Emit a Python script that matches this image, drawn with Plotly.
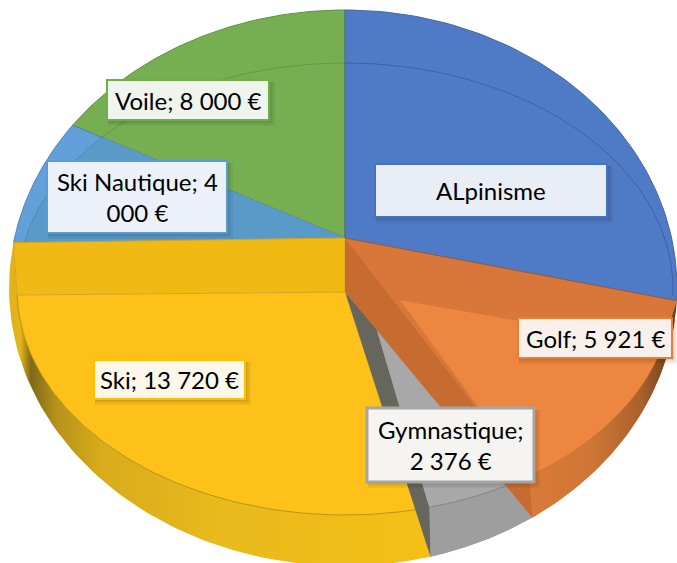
import numpy as np
import plotly.graph_objects as go

# ---- data (clockwise from 12 o'clock)
names = ["ALpinisme", "Golf", "Gymnastique", "Ski", "Ski Nautique", "Voile"]
values = [13500, 5921, 2376, 13720, 4000, 8000]   # Alpinisme is estimated: its label shows no value
show_value = [False, True, True, True, True, True]
top_colors = ["#4F7BC6", "#ED8640", "#A8A8A8", "#FDC119", "#639FD8", "#76AF52"]
line_breaks = {"Gymnastique": "Gymnastique;<br>{}", "Ski Nautique": "Ski Nautique; 4<br>000 €"}

# ---- view geometry of the tilted pie
CX, APEX_Y = 345.0, 238.0
OUT = dict(cy=288.0, rx=332.0, rx_left=336.0, ry=278.0)
INN = dict(cy=289.0, rx=328.0, rx_left=328.0, ry=226.0)
FACE_APEX_Y = 292.0
ORANGE_APEX = (400.0, 300.0)
GREY_APEX = (376.0, 327.0)
PERSP = (-7.5, 0.2, 2.8)   # harmonic terms of the perspective distortion, degrees


def screen_angle(theta):
    r = np.radians(theta)
    return theta + PERSP[0] * np.sin(r) + PERSP[1] * np.sin(2 * r) + PERSP[2] * np.sin(3 * r)


def ell(e, t):
    r = np.radians(t)
    s = np.sin(r)
    return CX + np.where(s >= 0, e["rx"], e["rx_left"]) * s, e["cy"] - e["ry"] * np.cos(r)


def inner_t(t):
    return t + 12 * np.sin(np.radians(t)) ** 7


def arc(e, t0, t1, warp=False, n=80):
    ts = np.linspace(t0, t1, n)
    if warp:
        ts = inner_t(ts)
    x, y = ell(e, ts)
    return list(x), list(y)


def ray_hit_t(t):
    """screen angle where the ray apex -> outer(t) crosses the inner ellipse"""
    ox, oy = ell(OUT, t)
    for s in np.linspace(1, 0, 800):
        x = CX + (ox - CX) * s
        y = APEX_Y + (oy - APEX_Y) * s
        if ((x - CX) / INN["rx"]) ** 2 + ((y - INN["cy"]) / INN["ry"]) ** 2 <= 1:
            return np.degrees(np.arctan2((x - CX) / INN["rx"], (INN["cy"] - y) / INN["ry"])) % 360
    return t


cum = np.cumsum(values) / np.sum(values) * 360.0
T = [float(screen_angle(c)) for c in cum]
t_blue, t_orange, t_grey, t_ski, t_nautique = T[:5]

fig = go.Figure()


def poly(xs, ys, color, line=None, width=1, gradient=None):
    kw = dict(fillgradient=gradient) if gradient else dict(fillcolor=color)
    fig.add_trace(go.Scatter(
        x=xs, y=ys, mode="lines", fill="toself", hoverinfo="skip", showlegend=False,
        line=dict(color=line or "rgba(0,0,0,0)", width=width if line else 0), **kw))


def stroke(xs, ys, color, width=1):
    fig.add_trace(go.Scatter(x=xs, y=ys, mode="lines", hoverinfo="skip", showlegend=False,
                             line=dict(color=color, width=width)))


def sector(t0, t1, color, line=None):
    x, y = arc(OUT, t0, t1)
    poly([CX] + x + [CX], [APEX_Y] + y + [APEX_Y], color, line)


def point(e, t, warp=False):
    x, y = ell(e, inner_t(t) if warp else t)
    return float(x), float(y)


# back slices
sector(0, t_blue, top_colors[0], "#44689F")
sector(t_nautique, 360, top_colors[5], "#5F8F45")
sector(t_ski, t_nautique, top_colors[4], "#4F85B8")
h0, h1 = ray_hit_t(t_ski), ray_hit_t(t_nautique)
x, y = arc(INN, h0, h1)
poly([CX] + x + [CX], [APEX_Y] + y + [APEX_Y], "#5A9AC9")

# faint rim line on the back half
x, y = arc(INN, h0, h1)
stroke(x, y, "rgba(60,80,90,0.25)")
x, y = arc(INN, h1, 360)
stroke(x, y, "rgba(50,80,40,0.25)")
x, y = arc(INN, 0, t_blue * 0.99)
stroke(x, y, "rgba(30,50,100,0.35)")

# Ski slice
ox, oy = arc(OUT, t_grey, t_ski)
ix, iy = arc(INN, t_grey, t_ski, warp=True)
poly(ox + ix[::-1], oy + iy[::-1], "#E0B01A", gradient=dict(
    type="horizontal", start=10, stop=430,
    colorscale=[[0, "#E3B41A"], [0.025, "#E3B41A"], [0.05, "#7E6A18"], [0.11, "#B5931A"],
                [0.22, "#D8AC1B"], [0.5, "#E8BA1D"], [1, "#F4BF16"]]))
poly([CX] + ix + [CX], [FACE_APEX_Y] + iy + [FACE_APEX_Y], top_colors[3])
stroke(ix, iy, "#B8930F")
yi = point(INN, t_ski, True)
yo = point(OUT, t_ski)
poly([CX, yo[0], yi[0], CX, CX], [APEX_Y, yo[1], yi[1], FACE_APEX_Y, APEX_Y], "#F1B913", "#D6A520")

# Gymnastique slice
go_o = point(OUT, t_orange)
gi = point(INN, t_grey, True)
go_g = point(OUT, t_grey)
ox, oy = arc(OUT, t_orange, t_grey)
poly([GREY_APEX[0]] + ox + [gi[0], GREY_APEX[0]], [GREY_APEX[1]] + oy + [gi[1], GREY_APEX[1]],
     top_colors[2])
ox2, oy2 = arc(OUT, t_orange, t_grey)
ix2, iy2 = arc(INN, t_orange, t_grey, warp=True)
poly(ox2 + ix2[::-1], oy2 + iy2[::-1], "#9E9E9E")
stroke(ix2, iy2, "#858585")
poly([CX, GREY_APEX[0], gi[0], go_g[0], CX], [FACE_APEX_Y, GREY_APEX[1], gi[1], go_g[1], FACE_APEX_Y],
     "#66665C")

# Golf slice
sector(t_blue, t_orange, "#D9773A")
ox, oy = arc(OUT, t_blue, t_orange)
ix, iy = arc(INN, t_blue, t_orange, warp=True)
poly(ix + ox[::-1], iy + oy[::-1], "#D07A38", gradient=dict(
    type="horizontal", start=530, stop=670,
    colorscale=[[0, "#D97A38"], [0.45, "#CE7636"], [0.8, "#A9602C"], [1, "#6E4220"]]))
stroke(ix, iy, "#C86C2C")
poly([ORANGE_APEX[0]] + ix + [ORANGE_APEX[0]], [ORANGE_APEX[1]] + iy + [ORANGE_APEX[1]], top_colors[1])
bi = point(INN, t_blue, True)
bo = point(OUT, t_blue)
poly([CX, bo[0], bi[0], ORANGE_APEX[0], CX], [APEX_Y, bo[1], bi[1], ORANGE_APEX[1], APEX_Y], "#D9773A")
oi = point(INN, t_orange, True)
poly([CX, oi[0], go_o[0], CX, CX], [APEX_Y, oi[1], go_o[1], FACE_APEX_Y, APEX_Y], "#C66C30")
stroke([CX, bo[0]], [APEX_Y, bo[1]], "#9A5A3A")
stroke([CX, CX], [float(ell(OUT, 0)[1]), APEX_Y], "#44689F")

# ---- data labels
def label(name, v, show):
    if not show:
        return name
    val = f"{v:,}".replace(",", " ") + " €"
    if name == "Ski Nautique":
        return line_breaks[name]
    if name in line_breaks:
        return line_breaks[name].format(val)
    return f"{name}; {val}"


boxes = [
    (375, 607, 164, 217, "#4472C4", "#E9EDF6", 2),
    (518, 672, 318, 358, "#ED7D31", "#F8F0EB", 2),
    (367, 534, 408, 482, "#A5A5A5", "#F5F4F1", 3),
    (94, 245, 360, 399, "#FFC000", "#FDF7E9", 2),
    (47, 227, 161, 233, "#5B9BD5", "#ECF1F9", 2),
    (107, 269, 80, 120, "#70AD47", "#EFF4EC", 2),
]
shapes, annos = [], []
for (x0, x1, y0, y1, edge, fill, lw), n, v, s in zip(boxes, names, values, show_value):
    for off, alpha in ((6, 0.05), (4, 0.06), (2, 0.07)):
        shapes.append(dict(type="rect", x0=x0 + 1, x1=x1 + off, y0=y0 + 2, y1=y1 + off,
                           fillcolor=f"rgba(0,0,0,{alpha})", line=dict(width=0), layer="above"))
    shapes.append(dict(type="rect", x0=x0, x1=x1, y0=y0, y1=y1, fillcolor=fill,
                       line=dict(color=edge, width=lw), layer="above"))
    annos.append(dict(x=(x0 + x1) / 2, y=(y0 + y1) / 2, text=label(n, v, s), showarrow=False,
                      font=dict(family="Lato", size=24, color="#000000"), align="center",
                      xanchor="center", yanchor="middle"))

fig.update_layout(
    width=677, height=563, margin=dict(l=0, r=0, t=0, b=0), showlegend=False,
    paper_bgcolor="#FFFFFF", plot_bgcolor="#FFFFFF", shapes=shapes, annotations=annos,
    xaxis=dict(range=[0, 677], visible=False, fixedrange=True),
    yaxis=dict(range=[563, 0], visible=False, fixedrange=True),
)
fig.write_html("out.html", config=dict(displayModeBar=False),
               post_script="document.body.style.margin='0';")
